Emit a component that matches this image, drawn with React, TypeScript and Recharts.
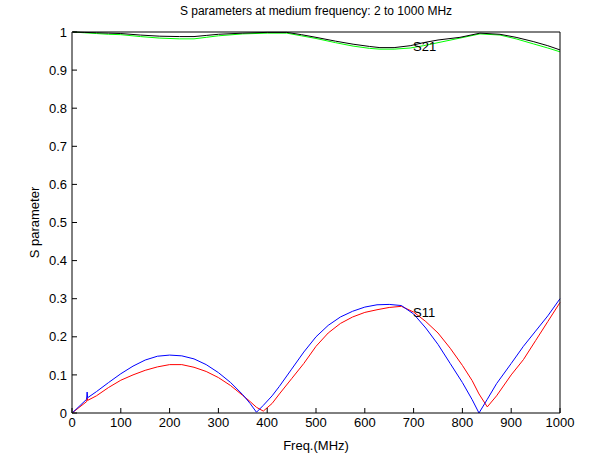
import { LineChart, Line, XAxis, YAxis, ReferenceDot } from "recharts";

// S11 samples (MHz) and magnitudes
const s11Freq = [
  2, 30, 31, 32, 50, 75, 100, 125, 150, 175, 200, 225, 250, 275, 300, 325, 350,
  365, 378, 392, 410, 425, 450, 475, 500, 525, 550, 575, 600, 625, 650, 675, 700,
  725, 750, 775, 800, 820, 834, 851, 870, 900, 925, 950, 975, 1000,
];
const s11Blue = [
  0.002, 0.036, 0.055, 0.04, 0.056, 0.08, 0.103, 0.123, 0.139, 0.149, 0.152, 0.15,
  0.142, 0.127, 0.106, 0.08, 0.048, 0.025, 0.002, 0.02, 0.045, 0.07, 0.115, 0.16,
  0.2, 0.23, 0.252, 0.267, 0.278, 0.284, 0.285, 0.282, 0.26, 0.223, 0.18, 0.13,
  0.08, 0.035, 0.0, 0.036, 0.077, 0.13, 0.175, 0.215, 0.255, 0.3,
];
const s11Red = [
  0.002, 0.03, 0.04, 0.033, 0.045, 0.067, 0.086, 0.1, 0.112, 0.121, 0.127, 0.127,
  0.12, 0.109, 0.093, 0.072, 0.046, 0.03, 0.015, 0.005, 0.025, 0.05, 0.09, 0.13,
  0.175, 0.21, 0.235, 0.252, 0.264, 0.271, 0.277, 0.28, 0.265, 0.24, 0.21, 0.17,
  0.125, 0.085, 0.05, 0.016, 0.045, 0.1, 0.14, 0.19, 0.24, 0.29,
];

// S21 samples
const s21Freq = [
  2, 25, 50, 75, 100, 140, 180, 220, 250, 275, 300, 350, 400, 440, 470, 500, 540,
  576, 610, 631, 660, 693, 720, 750, 795, 836, 877, 910, 945, 975, 1000,
];
const s21Black = [
  1.0, 0.999, 0.998, 0.997, 0.996, 0.992, 0.989, 0.988, 0.988, 0.991, 0.994, 0.997,
  0.999, 0.999, 0.993, 0.986, 0.976, 0.968, 0.962, 0.959, 0.959, 0.964, 0.972, 0.979,
  0.986, 0.997, 0.994, 0.986, 0.975, 0.964, 0.953,
];
const s21Green = [
  1.0, 0.998, 0.996, 0.994, 0.993, 0.988, 0.984, 0.982, 0.982, 0.986, 0.99, 0.995,
  0.997, 0.997, 0.99, 0.983, 0.972, 0.963, 0.957, 0.955, 0.955, 0.958, 0.964,
  0.972, 0.984, 0.995, 0.992, 0.982, 0.969, 0.958, 0.948,
];

const xTicks = [0, 100, 200, 300, 400, 500, 600, 700, 800, 900, 1000];
const yTicks = [0, 0.1, 0.2, 0.3, 0.4, 0.5, 0.6, 0.7, 0.8, 0.9, 1];

const s11Data = s11Freq.map((f, i) => ({ f, blue: s11Blue[i], red: s11Red[i] }));
const s21Data = s21Freq.map((f, i) => ({ f, black: s21Black[i], green: s21Green[i] }));

const axisStyle = { stroke: "#000" };
const tickStyle = { fill: "#000", fontSize: 13 };

const titleLabel = ({ viewBox }: any) => (
  <text x={viewBox.x + viewBox.width / 2} y={viewBox.y - 16} textAnchor="middle" fontSize={12} fill="#000">
    S parameters at medium frequency: 2 to 1000 MHz
  </text>
);

const xLabel = ({ viewBox }: any) => (
  <text x={viewBox.x + viewBox.width / 2} y={viewBox.y + 37} textAnchor="middle" fontSize={13} fill="#000">
    Freq.(MHz)
  </text>
);

const yLabel = ({ viewBox }: any) => {
  const cx = viewBox.x + 12;
  const cy = viewBox.y + viewBox.height / 2;
  return (
    <text
      x={cx}
      y={cy}
      transform={`rotate(-90 ${cx} ${cy})`}
      textAnchor="middle"
      dominantBaseline="central"
      fontSize={13}
      fill="#000"
    >
      S parameter
    </text>
  );
};

export default function App() {
  return (
    <div style={{ position: "absolute", left: 0, top: 0, background: "#fff", fontFamily: "'Liberation Sans', Arial, sans-serif" }}>
      <LineChart width={589} height={455} margin={{ top: 31, right: 28, bottom: 12, left: 22 }}>
        <XAxis
          dataKey="f"
          type="number"
          domain={[0, 1000]}
          ticks={xTicks}
          height={30}
          tickSize={-5}
          tickMargin={10}
          axisLine={axisStyle}
          tickLine={axisStyle}
          tick={tickStyle}
          label={xLabel}
        />
        <XAxis
          xAxisId="top"
          orientation="top"
          dataKey="f"
          type="number"
          domain={[0, 1000]}
          allowDataOverflow
          ticks={xTicks}
          height={1}
          tickSize={-5}
          axisLine={axisStyle}
          tickLine={axisStyle}
          tick={false}
          label={titleLabel}
        />
        <YAxis
          type="number"
          domain={[0, 1]}
          ticks={yTicks}
          width={50}
          tickSize={-5}
          tickMargin={10}
          axisLine={axisStyle}
          tickLine={axisStyle}
          tick={tickStyle}
          label={yLabel}
        />
        <YAxis
          yAxisId="right"
          orientation="right"
          type="number"
          domain={[0, 1]}
          allowDataOverflow
          ticks={yTicks}
          width={1}
          tickSize={-5}
          axisLine={axisStyle}
          tickLine={axisStyle}
          tick={false}
        />
        <Line data={s21Data} dataKey="green" type="linear" stroke="#00ff00" strokeWidth={1} dot={false} isAnimationActive={false} />
        <Line data={s21Data} dataKey="black" type="linear" stroke="#000000" strokeWidth={1} dot={false} isAnimationActive={false} />
        <Line data={s11Data} dataKey="red" type="linear" stroke="#ff0000" strokeWidth={1} dot={false} isAnimationActive={false} />
        <Line data={s11Data} dataKey="blue" type="linear" stroke="#0000ff" strokeWidth={1} dot={false} isAnimationActive={false} />
        <ReferenceDot
          x={699}
          y={0.963}
          r={0}
          fill="none"
          stroke="none"
          label={{ value: "S21", position: "right", offset: 0, fill: "#000", fontSize: 13 }}
        />
        <ReferenceDot
          x={699}
          y={0.265}
          r={0}
          fill="none"
          stroke="none"
          label={{ value: "S11", position: "right", offset: 0, fill: "#000", fontSize: 13 }}
        />
      </LineChart>
    </div>
  );
}
